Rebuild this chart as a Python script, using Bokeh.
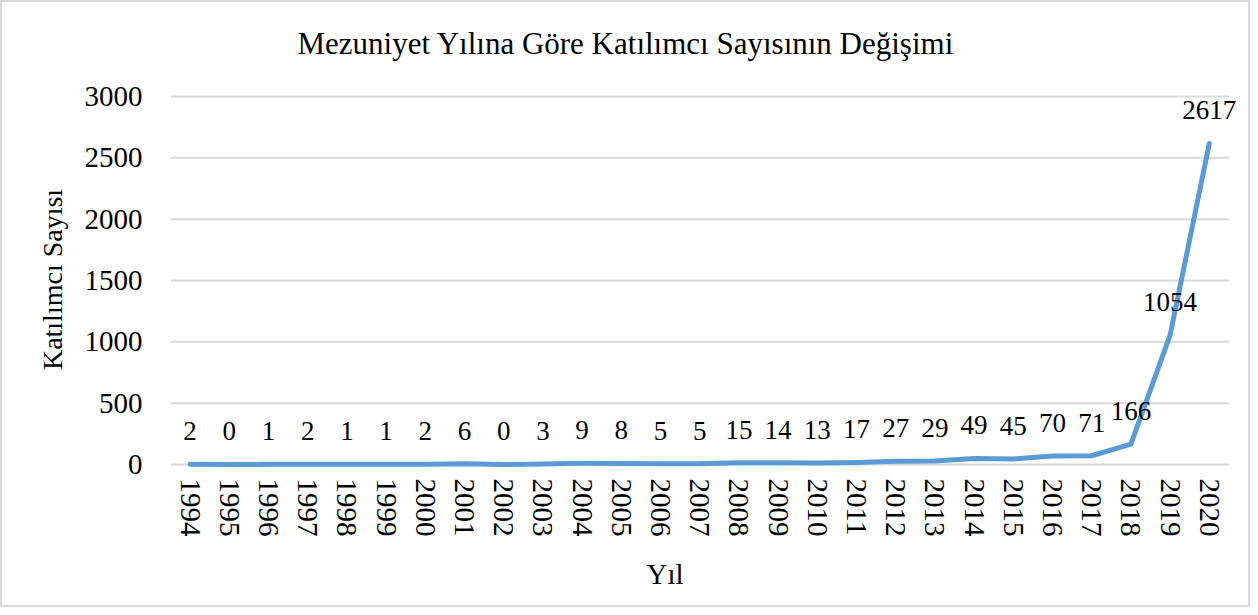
from bokeh.plotting import figure
from bokeh.models import ColumnDataSource, LabelSet, Range1d, FixedTicker, Title
from bokeh.embed import file_html
from bokeh.resources import INLINE

years = list(range(1994, 2021))
counts = [2, 0, 1, 2, 1, 1, 2, 6, 0, 3, 9, 8, 5, 5, 15, 14, 13, 17, 27, 29, 49, 45, 70, 71, 166, 1054, 2617]
y_ticks = [0, 500, 1000, 1500, 2000, 2500, 3000]

FONT = "Liberation Serif"

src = ColumnDataSource(dict(x=years, y=counts, lbl=[str(c) for c in counts]))
grid_src = ColumnDataSource(dict(x0=[years[0] - 0.5] * len(y_ticks), x1=[years[-1] + 0.5] * len(y_ticks),
                                 y=y_ticks))

p = figure(width=1250, height=607,
           x_range=Range1d(years[0] - 0.5, years[-1] + 1.0),
           y_range=Range1d(-41, 3114),
           output_backend="svg", toolbar_location=None,
           min_border_left=168, min_border_right=4, min_border_top=80, min_border_bottom=140)
p.styles = {"border": "2px solid #d9d9d9", "box-sizing": "border-box"}
p.outline_line_color = None
p.xgrid.grid_line_color = None
p.ygrid.grid_line_color = None

p.title.text = "Mezuniyet Yılına  Göre Katılımcı  Sayısının Değişimi"
p.title.text_font = FONT
p.title.text_font_size = "31px"
p.title.text_font_style = "normal"
p.title.text_color = "#000000"
p.title.align = "left"
p.title.offset = 127
p.title.standoff = 43

p.segment(x0="x0", x1="x1", y0="y", y1="y", source=grid_src, line_color="#d9d9d9", line_width=2)
p.line("x", "y", source=src, line_color="#5B9BD5", line_width=5, line_join="round", line_cap="round")

labels = LabelSet(x="x", y="y", text="lbl", source=src, y_offset=33, text_align="center",
                  text_baseline="middle", text_font=FONT, text_font_size="27px", text_color="#000000")
p.add_layout(labels)

p.xaxis.ticker = FixedTicker(ticks=years)
p.yaxis.ticker = FixedTicker(ticks=y_ticks)

for ax in (p.xaxis[0], p.yaxis[0]):
    ax.axis_line_color = None
    ax.major_tick_line_color = None
    ax.minor_tick_line_color = None
    ax.major_label_text_font = FONT
    ax.major_label_text_font_size = "29px"
    ax.major_label_text_color = "#000000"
    ax.axis_label_text_font = FONT
    ax.axis_label_text_font_size = "28px"
    ax.axis_label_text_font_style = "normal"
    ax.axis_label_text_color = "#000000"

p.xaxis.major_label_orientation = "vertical"
p.xaxis.major_label_standoff = 3
p.yaxis.major_label_standoff = 22
p.yaxis.axis_label = "Katılımcı  Sayısı"
p.yaxis.axis_label_standoff = 14

xtitle = Title(text="Yıl", align="left", offset=476, text_font=FONT, text_font_size="29px",
               text_font_style="normal", text_color="#000000", standoff=33)
p.add_layout(xtitle, "below")

open("out.html", "w").write(file_html(p, INLINE))
